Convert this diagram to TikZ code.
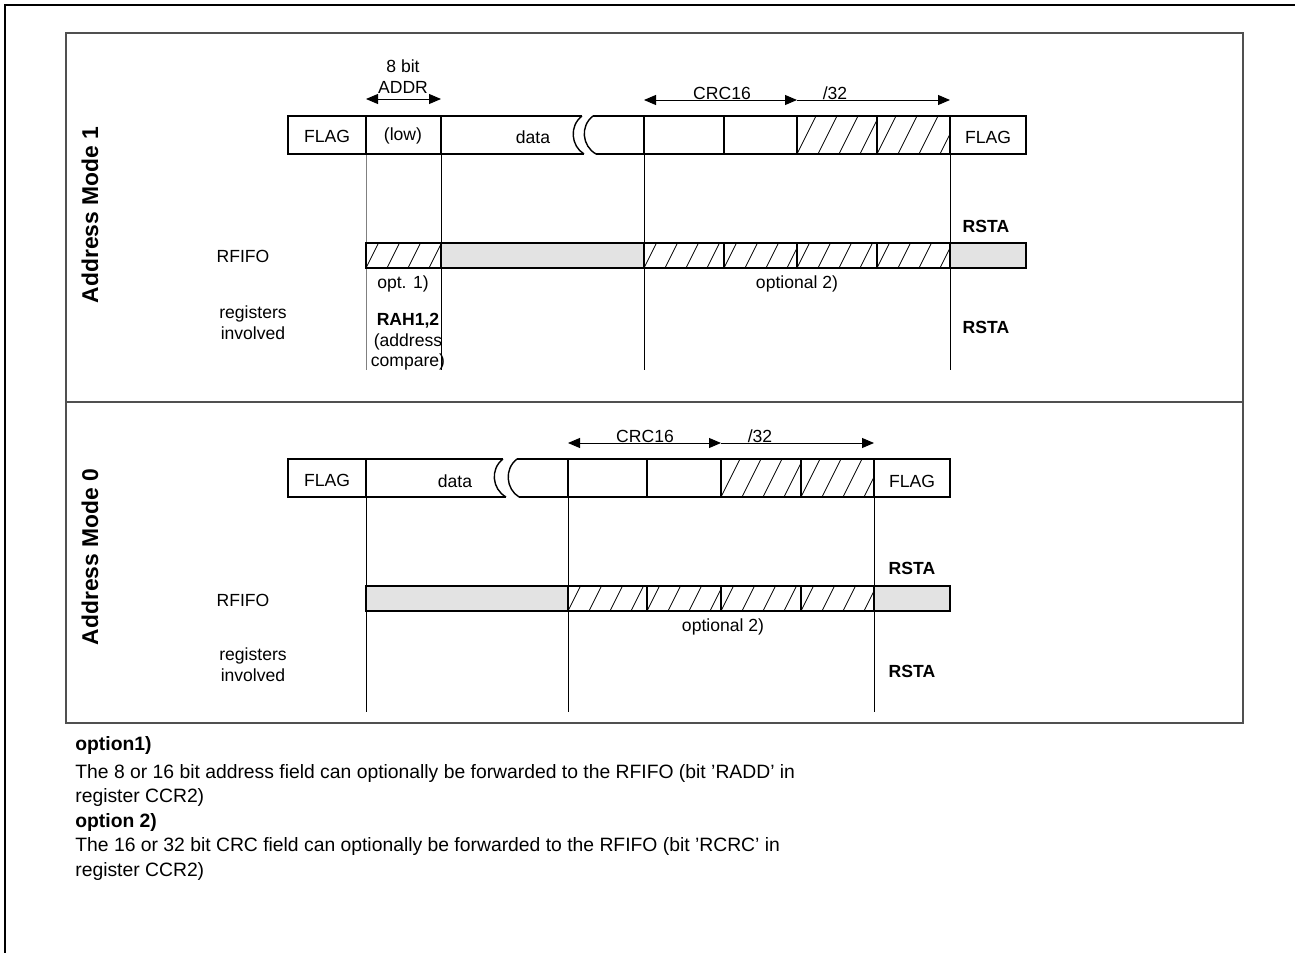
\documentclass[tikz,border=0pt]{standalone}
\usepackage{fontspec}
\setmainfont{Liberation Sans}
\usetikzlibrary{arrows.meta}

\definecolor{fifogrey}{RGB}{227,227,227}
\definecolor{framegrey}{RGB}{80,80,80}

\tikzset{
  fld/.style={draw=black, line width=0.8pt},
  fifo/.style={fld, fill=fifogrey},
  hatchln/.style={line width=0.45pt},
  guide/.style={line width=0.5pt},
  lbl/.style={font=\fontsize{10}{12}\selectfont, inner sep=0pt},
  blbl/.style={font=\fontsize{10}{12}\selectfont\bfseries, inner sep=0pt},
  span/.style={line width=0.5pt, {Triangle[length=0.24cm,width=0.2cm]}-{Triangle[length=0.24cm,width=0.2cm]}},
  spanr/.style={line width=0.5pt, -{Triangle[length=0.24cm,width=0.2cm]}},
  modetitle/.style={font=\fontsize{13}{15}\selectfont\bfseries, rotate=90, inner sep=0pt},
  note/.style={font=\fontsize{11}{13}\selectfont, anchor=base west, inner sep=0pt},
}

% hatched cell: x1, y1 (top), x2, y2 (bottom)
\newcommand{\hatchcell}[4]{%
  \begin{scope}
    \clip (#1,#2) rectangle (#3,#4);
    \foreach \k in {0,1,2,3}
      \draw[hatchln] ({#1+21*\k},#4) -- ++({0.5*(#4-#2)},{#2-#4});
  \end{scope}
  \draw[fld] (#1,#2) rectangle (#3,#4);}

\begin{document}
\begin{tikzpicture}[x=0.02cm, y=-0.02cm]
  \useasboundingbox (0,0) rectangle (1295,953);

  % ==========================================
  % FRAMES
  % ==========================================
  \draw[line width=1.2pt] (5,953) -- (5,5) -- (1295,5);
  \draw[framegrey, line width=0.9pt] (66,33) rectangle (1243,723);
  \draw[framegrey, line width=0.9pt] (66,402) -- (1243,402);

  % ==========================================
  % ADDRESS MODE 1
  % ==========================================
  \node[modetitle] (titleA) at (90,215) {Address Mode 1};

  % Guide lines (drawn first)
  \draw[guide, gray] (366,154) -- (366,370);
  \draw[guide] (441,154) -- (441,370);
  \draw[guide] (644,154) -- (644,370);
  \draw[guide] (950,154) -- (950,370);

  % Frame
  \draw[fld] (288,116) rectangle (366,154);
  \draw[fld] (366,116) rectangle (441,154);
  \draw[fld] (582,116) -- (441,116) -- (441,154) -- (584,154);
  \draw[fld] (582,116) .. controls (569,126) and (571,146) .. (584,154);
  \draw[fld] (593,116) .. controls (580,126) and (582,146) .. (596,154);
  \draw[fld] (593,116) -- (644,116);
  \draw[fld] (596,154) -- (644,154);
  \draw[fld] (644,116) rectangle (724,154);
  \draw[fld] (724,116) rectangle (797,154);
  \hatchcell{797}{116}{877}{154}
  \hatchcell{877}{116}{950}{154}
  \draw[fld] (950,116) rectangle (1026,154);

  \node[lbl] (flagA) at (327,136) {FLAG};
  \node[lbl] (lowA) at (403,136) {(low)};
  \node[lbl] (dataA) at (533,137) {data};
  \node[lbl] (flagAr) at (988,137) {FLAG};

  % Field widths
  \node[lbl] (bitA) at (403,66) {8 bit};
  \node[lbl] (addrA) at (403,87) {ADDR};
  \draw[span] (366,99) -- (441,99);
  \node[lbl] (crcA) at (722,93) {CRC16};
  \node[lbl] (crcxA) at (835,93) {/32};
  \draw[span] (644,100) -- (797,100);
  \draw[spanr] (797,100) -- (950,100);

  % RFIFO
  \hatchcell{366}{243}{441}{268}
  \draw[fifo] (441,243) rectangle (644,268);
  \hatchcell{644}{243}{724}{268}
  \hatchcell{724}{243}{797}{268}
  \hatchcell{797}{243}{877}{268}
  \hatchcell{877}{243}{950}{268}
  \draw[fifo] (950,243) rectangle (1026,268);

  \node[lbl] (fifoA) at (243,256) {RFIFO};
  \node[blbl] (rstaA) at (986,226) {RSTA};
  \node[lbl] (optA) at (403,284) {opt. 1)};
  \node[lbl] (optB) at (797,284) {optional 2)};

  % Registers
  \node[lbl, align=center] (regA) at (253,323) {registers\\involved};
  \node[blbl] (rahA) at (408,321) {RAH1,2};
  \node[lbl] (cmpA) at (408,342) {(address};
  \node[lbl] (cmpB) at (408,362) {compare)};
  \node[blbl] (rstaB) at (986,327) {RSTA};

  % ==========================================
  % ADDRESS MODE 0
  % ==========================================
  \node[modetitle] (titleB) at (90,557) {Address Mode 0};

  % Guide lines
  \draw[guide] (366,497) -- (366,712);
  \draw[guide] (568,497) -- (568,712);
  \draw[guide] (874,497) -- (874,712);

  % Frame
  \draw[fld] (288,459) rectangle (366,497);
  \draw[fld] (503,459) -- (366,459) -- (366,497) -- (506,497);
  \draw[fld] (503,459) .. controls (490,469) and (492,489) .. (506,497);
  \draw[fld] (517,459) .. controls (504,469) and (506,489) .. (519,497);
  \draw[fld] (517,459) -- (568,459);
  \draw[fld] (519,497) -- (568,497);
  \draw[fld] (568,459) rectangle (647,497);
  \draw[fld] (647,459) rectangle (721,497);
  \hatchcell{721}{459}{801}{497}
  \hatchcell{801}{459}{874}{497}
  \draw[fld] (874,459) rectangle (950,497);

  \node[lbl] (flagB) at (327,480) {FLAG};
  \node[lbl] (dataB) at (455,481) {data};
  \node[lbl] (flagBr) at (912,481) {FLAG};

  % Field widths
  \node[lbl] (crcB) at (645,436) {CRC16};
  \node[lbl] (crcxB) at (760,436) {/32};
  \draw[span] (568,443) -- (721,443);
  \draw[spanr] (721,443) -- (874,443);

  % RFIFO
  \draw[fifo] (366,586) rectangle (568,611);
  \hatchcell{568}{586}{647}{611}
  \hatchcell{647}{586}{721}{611}
  \hatchcell{721}{586}{801}{611}
  \hatchcell{801}{586}{874}{611}
  \draw[fifo] (874,586) rectangle (950,611);

  \node[lbl] (fifoB) at (243,600) {RFIFO};
  \node[blbl] (rstaC) at (912,568) {RSTA};
  \node[lbl] (optC) at (723,627) {optional 2)};

  % Registers
  \node[lbl, align=center] (regB) at (253,665) {registers\\involved};
  \node[blbl] (rstaD) at (912,671) {RSTA};

  % ==========================================
  % NOTES
  % ==========================================
  \node[note] (note1) at (75,750) {\bfseries option1)};
  \node[note] (note2) at (75,778) {The 8 or 16 bit address field can optionally be forwarded to the RFIFO (bit ’RADD’ in};
  \node[note] (note3) at (75,802) {register CCR2)};
  \node[note] (note4) at (75,827) {\bfseries option 2)};
  \node[note] (note5) at (75,851) {The 16 or 32 bit CRC field can optionally be forwarded to the RFIFO (bit ’RCRC’ in};
  \node[note] (note6) at (75,876) {register CCR2)};

\end{tikzpicture}
\end{document}
